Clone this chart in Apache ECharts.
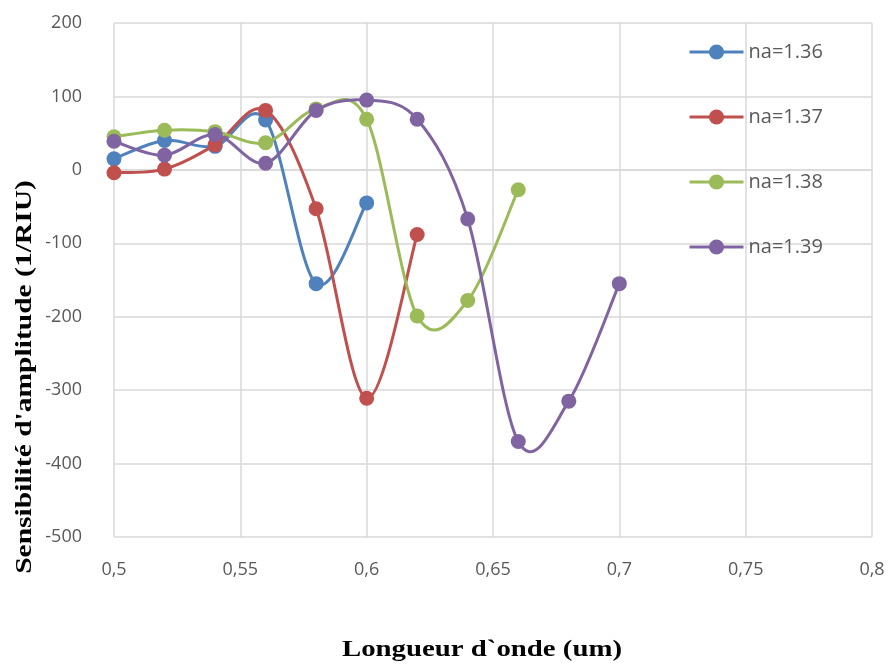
<!DOCTYPE html>
<html>
<head>
<meta charset="utf-8">
<script src="https://cdn.jsdelivr.net/npm/echarts@6/dist/echarts.min.js"></script>
<style>
  html, body { margin: 0; padding: 0; background: #fff; }
  #chart { width: 889px; height: 664px; }
</style>
</head>
<body>
<div id="chart"></div>
<script>
// Wavelength (um) and amplitude sensitivity (1/RIU) for each analyte index
const wavelengths136 = [0.50, 0.52, 0.54, 0.56, 0.58, 0.60];
const sensitivity136 = [15, 40, 32, 68, -155, -45];

const wavelengths137 = [0.50, 0.52, 0.54, 0.56, 0.58, 0.60, 0.62];
const sensitivity137 = [-4, 1, 34, 81, -53, -311, -88];

const wavelengths138 = [0.50, 0.52, 0.54, 0.56, 0.58, 0.60, 0.62, 0.64, 0.66];
const sensitivity138 = [45, 54, 52, 37, 83, 69, -199, -178, -27];

const wavelengths139 = [0.50, 0.52, 0.54, 0.56, 0.58, 0.60, 0.62, 0.64, 0.66, 0.68, 0.70];
const sensitivity139 = [39, 20, 48, 9, 81, 95, 69, -67, -370, -315, -155];

const seriesNames = ['na=1.36', 'na=1.37', 'na=1.38', 'na=1.39'];
const seriesColors = ['#4F81BD', '#C0504D', '#9BBB59', '#8064A2'];
const xTicks = [0.5, 0.55, 0.6, 0.65, 0.7, 0.75, 0.8];
const xTitle = 'Longueur d`onde (um)';
const yTitle = "Sensibilité d'amplitude (1/RIU)";

const xs = [wavelengths136, wavelengths137, wavelengths138, wavelengths139];
const ys = [sensitivity136, sensitivity137, sensitivity138, sensitivity139];
const points = xs.map((arr, i) => arr.map((x, k) => [x, ys[i][k]]));

const chart = echarts.init(document.getElementById('chart'), null, { renderer: 'canvas' });

const gridColor = '#d9d9d9';
const labelFont = 'Open Sans, Noto Sans, sans-serif';
const titleFont = 'Liberation Serif, serif';

// Smooth curve through the data: cubic Bezier segments with Catmull-Rom tangents,
// computed in pixel space from the axis coordinates of each sample.
function curveRenderer(seriesIndex, color) {
  const pts = points[seriesIndex];
  return function (params, api) {
    const k = params.dataIndex;
    if (k >= pts.length - 1) return null;
    const p = j => api.coord(pts[Math.max(0, Math.min(pts.length - 1, j))]);
    const P0 = p(k - 1), P1 = p(k), P2 = p(k + 1), P3 = p(k + 2);
    return {
      type: 'bezierCurve',
      shape: {
        x1: P1[0], y1: P1[1],
        x2: P2[0], y2: P2[1],
        cpx1: P1[0] + (P2[0] - P0[0]) / 6,
        cpy1: P1[1] + (P2[1] - P0[1]) / 6,
        cpx2: P2[0] - (P3[0] - P1[0]) / 6,
        cpy2: P2[1] - (P3[1] - P1[1]) / 6
      },
      style: { stroke: color, lineWidth: 3, fill: null, lineCap: 'round' }
    };
  };
}

const markerSeries = seriesNames.map((name, i) => ({
  name,
  type: 'line',
  data: points[i],
  symbol: 'circle',
  symbolSize: 15,
  lineStyle: { width: 0, opacity: 0, color: seriesColors[i] },
  itemStyle: { color: seriesColors[i] },
  z: 3 + i * 2
}));

const curveSeries = seriesNames.map((name, i) => ({
  name,
  type: 'custom',
  coordinateSystem: 'cartesian2d',
  data: points[i],
  encode: { x: 0, y: 1 },
  renderItem: curveRenderer(i, seriesColors[i]),
  itemStyle: { color: seriesColors[i] },
  z: 2 + i * 2
}));

chart.setOption({
  animation: false,
  backgroundColor: '#ffffff',
  grid: { left: 114, right: 17, top: 23, bottom: 127, containLabel: false },
  legend: {
    orient: 'vertical',
    left: 688,
    top: 42,
    padding: 0,
    itemGap: 45,
    itemWidth: 54,
    itemHeight: 19,
    lineStyle: { width: 3, opacity: 1 },
    textStyle: { color: '#595959', fontSize: 20, lineHeight: 19, fontFamily: labelFont },
    data: seriesNames
  },
  xAxis: {
    type: 'value',
    min: 0.5,
    max: 0.8,
    interval: 0.05,
    axisLine: { show: true, lineStyle: { color: gridColor, width: 1.5 } },
    axisTick: { show: false },
    splitLine: { show: true, lineStyle: { color: gridColor, width: 1.5 } },
    axisLabel: {
      color: '#595959',
      fontSize: 18,
      fontFamily: labelFont,
      margin: 24,
      formatter: v => {
        const t = xTicks.find(t => Math.abs(t - v) < 1e-9);
        return t === undefined ? '' : String(t).replace('.', ',');
      }
    }
  },
  yAxis: {
    type: 'value',
    min: -500,
    max: 200,
    interval: 100,
    axisLine: { show: false },
    axisTick: { show: false },
    splitLine: { show: true, lineStyle: { color: gridColor, width: 1.5 } },
    axisLabel: { color: '#595959', fontSize: 18, fontFamily: labelFont, margin: 32 }
  },
  graphic: [
    {
      type: 'text',
      x: 482,
      y: 650,
      scaleX: 1.2,
      style: {
        text: xTitle,
        font: 'bold 24px ' + titleFont,
        fill: '#000',
        align: 'center',
        verticalAlign: 'middle'
      }
    },
    {
      type: 'text',
      x: 25,
      y: 377,
      rotation: Math.PI / 2,
      scaleX: 1.23,
      style: {
        text: yTitle,
        font: 'bold 24px ' + titleFont,
        fill: '#000',
        align: 'center',
        verticalAlign: 'middle'
      }
    }
  ],
  series: [...markerSeries, ...curveSeries]
});
</script>
</body>
</html>
